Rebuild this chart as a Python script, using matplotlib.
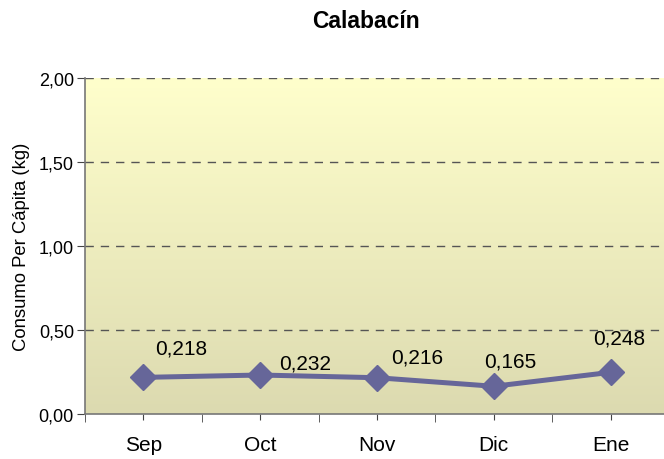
import numpy as np
import matplotlib
matplotlib.use("Agg")
import matplotlib.pyplot as plt
from matplotlib.colors import LinearSegmentedColormap

plt.rcParams['font.family'] = ['Liberation Sans', 'DejaVu Sans']

months = ["Sep", "Oct", "Nov", "Dic", "Ene"]
consumo = [0.218, 0.232, 0.216, 0.165, 0.248]
labels = ["0,218", "0,232", "0,216", "0,165", "0,248"]
yticks = [0.0, 0.5, 1.0, 1.5, 2.0]
yticklabels = ["0,00", "0,50", "1,00", "1,50", "2,00"]

# label offsets in points (manually placed in original)
offsets = [(27, 21), (32, 9), (29, 15), (12, 18), (6.5, 25)]

fig = plt.figure(figsize=(6.64, 4.6), dpi=100)
ax = fig.add_axes([85/664, 1 - 415/460, 584/664, 336/460])

x = np.arange(len(months))
ax.set_xlim(-0.5, 4.5)
ax.set_ylim(0, 2)

# gradient background
cmap = LinearSegmentedColormap.from_list("bg", ["#dcdab0", "#ffffcc"])
grad = np.linspace(0, 1, 256).reshape(-1, 1)
ax.imshow(grad, aspect="auto", cmap=cmap, origin="lower",
          extent=(-0.5, 4.5, 0, 2), zorder=0)

for yv in yticks[1:]:
    ax.axhline(yv, color="#555555", lw=1, ls=(0, (6, 5)), zorder=1)

ax.plot(x, consumo, color="#666699", lw=3.6, marker="D", ms=13,
        markerfacecolor="#666699", markeredgecolor="#666699", zorder=3)

for xi, yi, lab, off in zip(x, consumo, labels, offsets):
    ax.annotate(lab, (xi, yi), xytext=off, textcoords="offset points",
                ha="center", va="center", fontsize=15, color="black")

ax.set_yticks(yticks)
ax.set_yticklabels(yticklabels, fontsize=13)
ax.set_xticks(x)
ax.set_xticklabels(months, fontsize=15)
ax.set_xticks(np.arange(-0.5, 5, 1), minor=True)
ax.tick_params(axis="x", which="major", length=4, color="#444444", pad=11)
ax.tick_params(axis="x", which="minor", length=6, color="#444444")
ax.tick_params(axis="y", length=6, color="#444444", pad=2)

for s in ["top", "right"]:
    ax.spines[s].set_visible(False)
for s in ["left", "bottom"]:
    ax.spines[s].set_color("#777777")
    ax.spines[s].set_linewidth(1.2)

ax.set_ylabel("Consumo Per Cápita (kg)", fontsize=13.3, labelpad=6)
fig.text(366/664, 1 - 21/460, "Calabacín", ha="center", va="center",
         fontsize=16.5, fontweight="bold")

fig.savefig("out.png", dpi=100)
